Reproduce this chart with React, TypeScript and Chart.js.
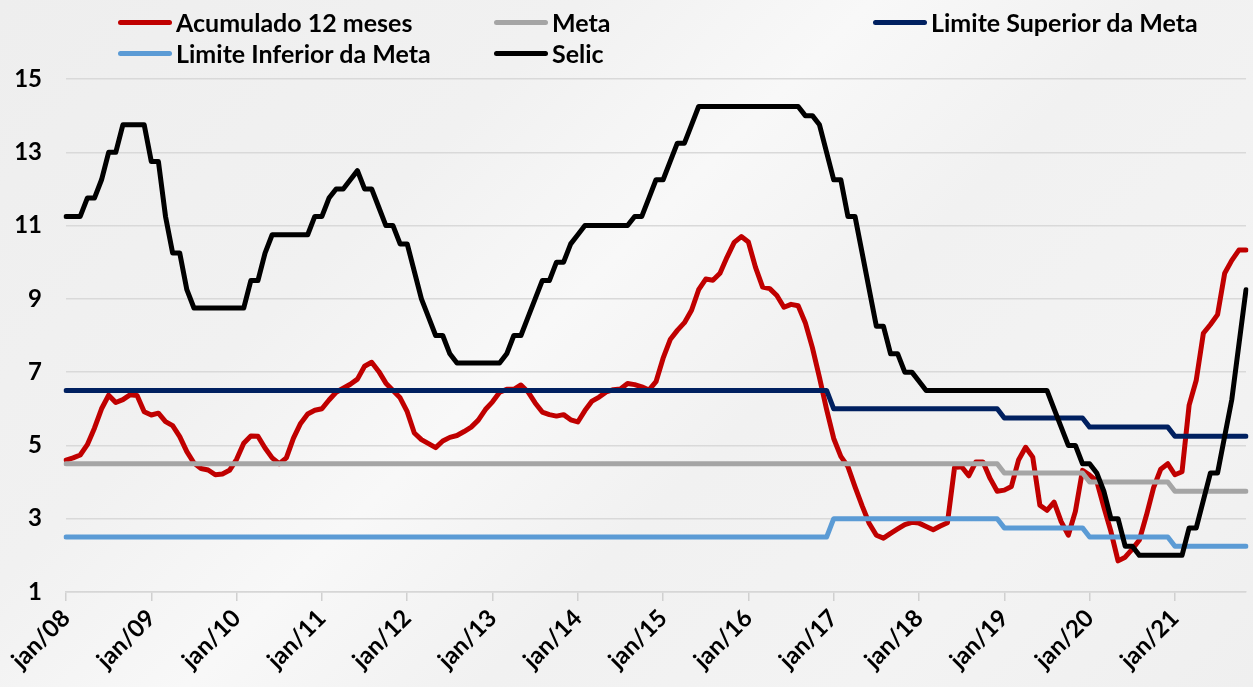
import React, { useEffect, useRef } from 'react';
import { Chart, registerables } from 'chart.js';

Chart.register(...registerables);

// ---------- DATA ----------
const MESES = ['jan', 'fev', 'mar', 'abr', 'mai', 'jun', 'jul', 'ago', 'set', 'out', 'nov', 'dez'];
const ANOS = ['08', '09', '10', '11', '12', '13', '14', '15', '16', '17', '18', '19', '20', '21'];
const MESES_ULTIMO_ANO = 11; // jan/21 .. nov/21

const CATEGORIAS: string[] = ANOS.flatMap((a, i) =>
  MESES.slice(0, i === ANOS.length - 1 ? MESES_ULTIMO_ANO : 12).map((m) => `${m}/${a}`)
);

const SERIES_NOMES = ['Acumulado 12 meses', 'Meta', 'Limite Superior da Meta', 'Limite Inferior da Meta', 'Selic'];

const ACUMULADO_12M = [
  4.60, 4.66, 4.74, 5.02, 5.47, 6.00, 6.37, 6.17, 6.25, 6.38, 6.36, 5.92, // 2008
  5.83, 5.88, 5.65, 5.54, 5.24, 4.83, 4.52, 4.37, 4.33, 4.20, 4.22, 4.32, // 2009
  4.62, 5.06, 5.26, 5.25, 4.93, 4.66, 4.50, 4.66, 5.20, 5.60, 5.86, 5.96, // 2010
  6.00, 6.24, 6.45, 6.56, 6.67, 6.81, 7.16, 7.27, 7.02, 6.70, 6.50, 6.30, // 2011
  5.92, 5.34, 5.16, 5.05, 4.94, 5.12, 5.22, 5.27, 5.38, 5.50, 5.69, 5.98, // 2012
  6.19, 6.45, 6.53, 6.53, 6.65, 6.46, 6.16, 5.91, 5.84, 5.80, 5.84, 5.70, // 2013
  5.64, 5.95, 6.21, 6.32, 6.46, 6.52, 6.54, 6.69, 6.66, 6.60, 6.51, 6.74, // 2014
  7.38, 7.89, 8.14, 8.35, 8.69, 9.25, 9.54, 9.51, 9.70, 10.14, 10.54, 10.70, // 2015
  10.55, 9.86, 9.32, 9.28, 9.09, 8.77, 8.85, 8.81, 8.35, 7.67, 6.85, 5.98, // 2016
  5.19, 4.70, 4.42, 3.87, 3.35, 2.87, 2.55, 2.47, 2.60, 2.72, 2.84, 2.90, // 2017
  2.88, 2.79, 2.70, 2.80, 2.89, 4.40, 4.42, 4.17, 4.55, 4.55, 4.10, 3.75, // 2018
  3.78, 3.88, 4.60, 4.95, 4.68, 3.37, 3.23, 3.45, 2.92, 2.55, 3.20, 4.32, // 2019
  4.19, 4.03, 3.32, 2.65, 1.85, 1.95, 2.17, 2.42, 3.10, 3.85, 4.35, 4.50, // 2020
  4.20, 4.28, 6.10, 6.78, 8.06, 8.30, 8.57, 9.70, 10.05, 10.33, 10.33, // 2021
];

const SELIC = [
  11.25, 11.25, 11.25, 11.75, 11.75, 12.25, 13.0, 13.0, 13.75, 13.75, 13.75, 13.75, // 2008
  12.75, 12.75, 11.25, 10.25, 10.25, 9.25, 8.75, 8.75, 8.75, 8.75, 8.75, 8.75, // 2009
  8.75, 8.75, 9.5, 9.5, 10.25, 10.75, 10.75, 10.75, 10.75, 10.75, 10.75, 11.25, // 2010
  11.25, 11.75, 12.0, 12.0, 12.25, 12.5, 12.0, 12.0, 11.5, 11.0, 11.0, 10.5, // 2011
  10.5, 9.75, 9.0, 8.5, 8.0, 8.0, 7.5, 7.25, 7.25, 7.25, 7.25, 7.25, // 2012
  7.25, 7.25, 7.5, 8.0, 8.0, 8.5, 9.0, 9.5, 9.5, 10.0, 10.0, 10.5, // 2013
  10.75, 11.0, 11.0, 11.0, 11.0, 11.0, 11.0, 11.0, 11.25, 11.25, 11.75, 12.25, // 2014
  12.25, 12.75, 13.25, 13.25, 13.75, 14.25, 14.25, 14.25, 14.25, 14.25, 14.25, 14.25, // 2015
  14.25, 14.25, 14.25, 14.25, 14.25, 14.25, 14.25, 14.25, 14.0, 14.0, 13.75, 13.0, // 2016
  12.25, 12.25, 11.25, 11.25, 10.25, 9.25, 8.25, 8.25, 7.5, 7.5, 7.0, 7.0, // 2017
  6.75, 6.5, 6.5, 6.5, 6.5, 6.5, 6.5, 6.5, 6.5, 6.5, 6.5, 6.5, // 2018
  6.5, 6.5, 6.5, 6.5, 6.5, 6.5, 6.5, 6.0, 5.5, 5.0, 5.0, 4.5, // 2019
  4.5, 4.25, 3.75, 3.0, 3.0, 2.25, 2.25, 2.0, 2.0, 2.0, 2.0, 2.0, // 2020
  2.0, 2.0, 2.75, 2.75, 3.5, 4.25, 4.25, 5.25, 6.25, 7.75, 9.25, // 2021
];

// one value per year, 2008..2021
const META_ANUAL = [4.5, 4.5, 4.5, 4.5, 4.5, 4.5, 4.5, 4.5, 4.5, 4.5, 4.5, 4.25, 4.0, 3.75];
const LIMITE_SUPERIOR_ANUAL = [6.5, 6.5, 6.5, 6.5, 6.5, 6.5, 6.5, 6.5, 6.5, 6.0, 6.0, 5.75, 5.5, 5.25];
const LIMITE_INFERIOR_ANUAL = [2.5, 2.5, 2.5, 2.5, 2.5, 2.5, 2.5, 2.5, 2.5, 3.0, 3.0, 2.75, 2.5, 2.25];

const Y_TICKS = [1, 3, 5, 7, 9, 11, 13, 15];

const porMes = (anual: number[]) => CATEGORIAS.map((_, i) => anual[Math.floor(i / 12)]);

// ---------- STYLE ----------
const CORES = ['#C00000', '#A5A5A5', '#002060', '#5B9BD5', '#000000'];
const FONT_FAMILY = 'Lato, "Open Sans", "Liberation Sans", sans-serif';
const LEGEND_LAYOUT = [
  { serie: 0, left: 118, cy: 22 },
  { serie: 1, left: 494, cy: 22 },
  { serie: 2, left: 873, cy: 22 },
  { serie: 3, left: 118, cy: 53 },
  { serie: 4, left: 494, cy: 53 },
];

export default function App() {
  const ref = useRef<HTMLCanvasElement | null>(null);

  useEffect(() => {
    const canvas = ref.current;
    if (!canvas) return;
    const valores = [
      ACUMULADO_12M,
      porMes(META_ANUAL),
      porMes(LIMITE_SUPERIOR_ANUAL),
      porMes(LIMITE_INFERIOR_ANUAL),
      SELIC,
    ];
    const ordem = [5, 4, 3, 2, 1];
    const font = { family: FONT_FAMILY, weight: 'bold' as const, size: 24 };
    const chart = new Chart(canvas, {
      type: 'line',
      data: {
        labels: CATEGORIAS,
        datasets: SERIES_NOMES.map((nome, i) => ({
          label: nome,
          data: valores[i],
          borderColor: CORES[i],
          backgroundColor: CORES[i],
          borderWidth: 5,
          pointRadius: 0,
          tension: 0,
          fill: false,
          order: ordem[i],
          borderJoinStyle: 'round' as const,
          borderCapStyle: 'round' as const,
        })),
      },
      options: {
        animation: false,
        responsive: false,
        maintainAspectRatio: false,
        layout: { padding: { top: 79, right: 7, left: 0, bottom: 0 } },
        plugins: { legend: { display: false }, tooltip: { enabled: false } },
        scales: {
          x: {
            type: 'category',
            offset: false,
            grid: {
              display: true,
              drawOnChartArea: false,
              drawTicks: true,
              tickLength: 9,
              lineWidth: 1.5,
              color: (c: any) => (c.index % 12 === 0 ? '#d0d0d0' : 'rgba(0,0,0,0)'),
            },
            border: { display: true, color: '#d6d6d6', width: 1.5 },
            ticks: {
              autoSkip: false,
              maxRotation: 45,
              minRotation: 45,
              color: '#000',
              font,
              padding: 3,
              callback: (_v: any, i: number) => (i % 12 === 0 ? CATEGORIAS[i] : ''),
            },
            afterFit: (s: any) => {
              s.height = 95;
              s.paddingLeft = 0;
              s.paddingRight = 0;
            },
          },
          y: {
            min: Y_TICKS[0],
            max: Y_TICKS[Y_TICKS.length - 1],
            afterBuildTicks: (s: any) => {
              s.ticks = Y_TICKS.map((v) => ({ value: v }));
            },
            ticks: { color: '#000', font, padding: 24 },
            grid: { color: '#d9d9d9', lineWidth: 1.5, drawTicks: false },
            border: { display: false },
            afterFit: (s: any) => {
              s.width = 66;
              s.paddingTop = 0;
              s.paddingBottom = 0;
            },
          },
        },
      },
    });
    return () => chart.destroy();
  }, []);

  return (
    <div
      style={{
        position: 'fixed',
        left: 0,
        top: 0,
        width: 1253,
        height: 687,
        overflow: 'hidden',
        background:
          'linear-gradient(135deg, #eeeeee 0%, #f1f1f1 30%, #f8f8f8 45%, #f1f1f1 60%, #f3f3f3 80%, #efefef 100%)',
      }}
    >
      <canvas ref={ref} width={1253} height={687} style={{ position: 'absolute', left: 0, top: 0 }} />
      {LEGEND_LAYOUT.map((it) => (
        <div
          key={it.serie}
          style={{
            position: 'absolute',
            left: it.left,
            top: it.cy - 16,
            height: 32,
            display: 'flex',
            alignItems: 'center',
            fontFamily: FONT_FAMILY,
            fontWeight: 700,
            fontSize: 25,
            color: '#000',
            whiteSpace: 'nowrap',
          }}
        >
          <span
            style={{
              display: 'inline-block',
              width: 54,
              height: 5,
              borderRadius: 3,
              background: CORES[it.serie],
              marginRight: 4,
            }}
          />
          {SERIES_NOMES[it.serie]}
        </div>
      ))}
    </div>
  );
}
